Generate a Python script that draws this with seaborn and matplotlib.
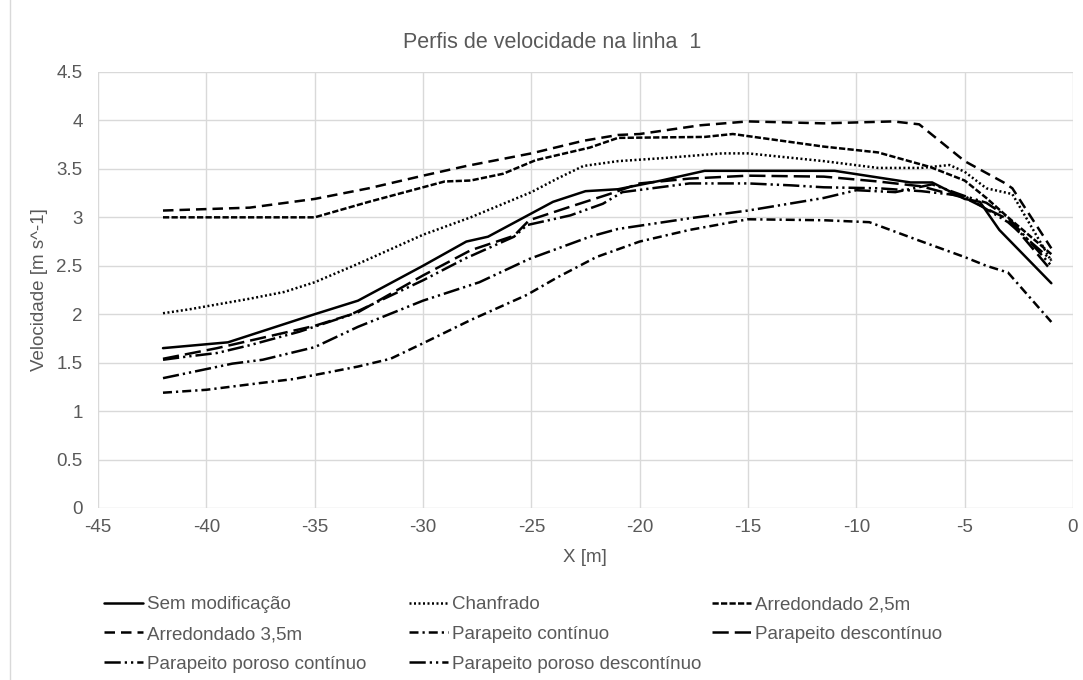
import matplotlib
matplotlib.use("Agg")
import matplotlib.pyplot as plt
import seaborn as sns
import numpy as np
from matplotlib.ticker import FuncFormatter, MultipleLocator
from matplotlib.patches import Rectangle

# ---------------- data ----------------
title = "Perfis de velocidade na linha  1"
x_label = "X [m]"
y_label = "Velocidade [m s^-1]"

labels = ["Sem modificação", "Chanfrado", "Arredondado 2,5m", "Arredondado 3,5m",
          "Parapeito contínuo", "Parapeito descontínuo",
          "Parapeito poroso contínuo", "Parapeito poroso descontínuo"]

x_sem = [-42, -39, -35, -33, -30, -28, -27, -26, -24, -22.5, -21, -19, -17, -15, -11, -7.5, -6.5, -5, -4.3, -3.4, -1]
y_sem = [1.65, 1.71, 2.00, 2.14, 2.50, 2.75, 2.80, 2.92, 3.16, 3.27, 3.29, 3.38, 3.48, 3.48, 3.48, 3.36, 3.36, 3.19, 3.16, 2.87, 2.32]

x_chan = [-42, -40.8, -38, -36.4, -35, -33, -30, -27.8, -25, -23.8, -22.6, -21, -19, -16.2, -15, -11.5, -9, -7, -5.7, -5, -4, -2.8, -1]
y_chan = [2.01, 2.05, 2.16, 2.23, 2.33, 2.52, 2.82, 3.00, 3.26, 3.40, 3.53, 3.58, 3.61, 3.66, 3.66, 3.58, 3.51, 3.51, 3.54, 3.47, 3.30, 3.24, 2.55]

x_arr25 = [-42, -35, -32.5, -30, -29, -27.8, -26.3, -24.8, -22.3, -21, -17, -15.7, -11.5, -9, -6.6, -5, -4, -3, -1]
y_arr25 = [3.00, 3.00, 3.16, 3.31, 3.37, 3.38, 3.45, 3.59, 3.72, 3.82, 3.83, 3.86, 3.73, 3.67, 3.52, 3.38, 3.20, 3.00, 2.62]

x_arr35 = [-42, -38, -35, -32.5, -30, -28, -25, -22.6, -21, -20, -17.2, -15, -11.5, -8.3, -7.1, -5, -3.2, -2.8, -1]
y_arr35 = [3.07, 3.10, 3.19, 3.30, 3.43, 3.53, 3.66, 3.79, 3.85, 3.86, 3.95, 3.99, 3.97, 3.99, 3.96, 3.58, 3.36, 3.30, 2.68]

x_pc = [-42, -40, -37.5, -36, -34.6, -33, -31.5, -30, -27.8, -25.2, -23.8, -22.6, -22, -20, -17.7, -15, -11.5, -9.4, -7.1, -5, -4, -3, -1]
y_pc = [1.19, 1.22, 1.29, 1.33, 1.39, 1.46, 1.54, 1.70, 1.94, 2.20, 2.38, 2.52, 2.59, 2.75, 2.87, 2.98, 2.97, 2.95, 2.76, 2.59, 2.50, 2.43, 1.92]

x_pd = [-42, -39.5, -35, -33, -30, -27.8, -25.8, -25.1, -23.2, -21.4, -20, -17.7, -15, -11.5, -9, -7, -5, -3, -1]
y_pd = [1.54, 1.65, 1.88, 2.02, 2.40, 2.66, 2.81, 2.97, 3.11, 3.24, 3.35, 3.40, 3.43, 3.42, 3.37, 3.32, 3.20, 2.98, 2.45]

x_ppc = [-42, -38.8, -37.4, -35, -33, -30, -27.4, -25.1, -22.3, -21, -17.7, -15, -11.5, -10, -8.2, -6.5, -5, -4, -3, -1]
y_ppc = [1.34, 1.49, 1.53, 1.66, 1.87, 2.14, 2.33, 2.57, 2.80, 2.88, 2.99, 3.07, 3.20, 3.28, 3.26, 3.34, 3.22, 3.15, 3.00, 2.50]

x_ppd = [-42, -41, -39.5, -38, -35.7, -33.4, -30, -28.1, -25.8, -25.2, -23.2, -21.7, -20.8, -17.7, -15, -13, -11.5, -9, -7, -5, -3, -1]
y_ppd = [1.53, 1.56, 1.60, 1.68, 1.82, 1.99, 2.35, 2.57, 2.80, 2.92, 3.02, 3.14, 3.26, 3.35, 3.35, 3.33, 3.31, 3.30, 3.27, 3.22, 2.95, 2.56]

xs = [x_sem, x_chan, x_arr25, x_arr35, x_pc, x_pd, x_ppc, x_ppd]
ys = [y_sem, y_chan, y_arr25, y_arr35, y_pc, y_pd, y_ppc, y_ppd]

# ---------------- styles ----------------
styles = [
    "-",
    (0, (0.8, 1.0)),
    (0, (2.5, 0.9)),
    (0, (4.2, 2.4)),
    (0, (3.6, 1.6, 0.9, 1.6)),
    (0, (6.5, 2.4)),
    (0, (6.5, 1.6, 0.9, 1.6, 0.9, 1.6)),
    (0, (6.5, 1.6, 0.9, 1.6, 0.9, 1.6)),
]

sns.set_style("white")
plt.rcParams["font.family"] = ["Liberation Sans", "DejaVu Sans"]
plt.rcParams["axes.unicode_minus"] = False

W, H = 1083, 680
fig = plt.figure(figsize=(W / 100, H / 100), dpi=100)
ax = fig.add_axes([98 / W, 1 - 508 / H, (1073 - 98) / W, (508 - 72) / H])

lw = 1.8
for x, y, ls, lab in zip(xs, ys, styles, labels):
    sns.lineplot(x=x, y=y, ax=ax, color="black", linestyle=ls, linewidth=lw,
                 estimator=None, sort=False, legend=False)

lines = ax.get_lines()

ax.set_xlim(-45, 0)
ax.set_ylim(0, 4.5)
ax.xaxis.set_major_locator(MultipleLocator(5))
ax.yaxis.set_major_locator(MultipleLocator(0.5))
ax.yaxis.set_major_formatter(FuncFormatter(lambda v, p: f"{v:g}"))
ax.xaxis.set_major_formatter(FuncFormatter(lambda v, p: f"{v:g}"))
ax.grid(True, color="#d9d9d9", linewidth=1.0)
ax.set_axisbelow(True)
for s in ax.spines.values():
    s.set_visible(False)
ax.tick_params(axis="both", length=0, labelsize=13.5, labelcolor="#595959")
ax.tick_params(axis="y", pad=11)
ax.tick_params(axis="x", pad=8)
ax.set_xlabel("")
ax.set_ylabel("")

fig.text(552 / W, 1 - 42 / H, title, ha="center", va="center", fontsize=15.5, color="#595959")
fig.text(585 / W, 1 - 557 / H, x_label, ha="center", va="center", fontsize=13.5, color="#595959")
fig.text(40 / W, 1 - 290 / H, y_label, ha="center", va="center", rotation=90, fontsize=13.5, color="#595959")

# chart-area border (left edge visible)
fig.patches.append(Rectangle((10 / W, -0.02), 1.1, 1.1, transform=fig.transFigure,
                             fill=False, edgecolor="#d9d9d9", linewidth=1.0))

# legend in three columns, row-wise like the original
cols = [[0, 3, 6], [1, 4, 7], [2, 5]]
col_x = [104, 409, 712]
for ci, idx in enumerate(cols):
    leg = fig.legend([lines[i] for i in idx], [labels[i] for i in idx],
                     loc="upper left", bbox_to_anchor=(col_x[ci] / W, 1 - 596 / H),
                     bbox_transform=fig.transFigure, frameon=False, ncol=1,
                     fontsize=13.5, handlelength=2.1, handletextpad=0.2,
                     labelspacing=0.68, borderpad=0, borderaxespad=0)
    for t in leg.get_texts():
        t.set_color("#595959")

fig.savefig("out.png", dpi=100)
